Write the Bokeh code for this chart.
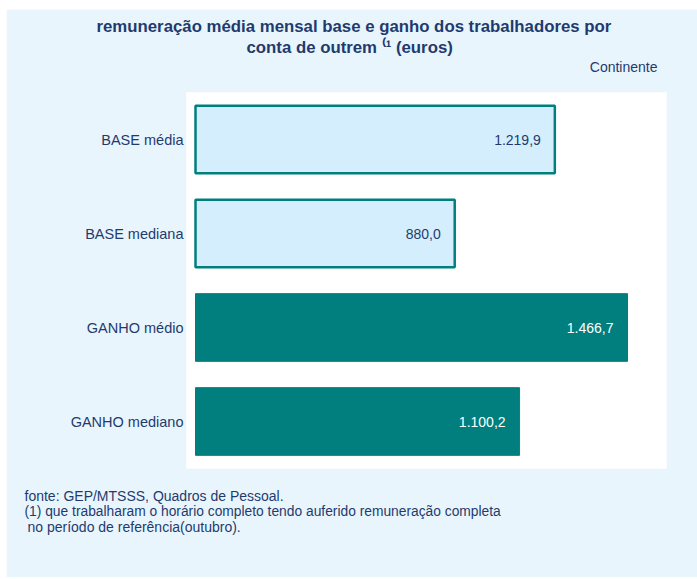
from bokeh.plotting import figure
from bokeh.models import ColumnDataSource, FactorRange, Range1d, Title
from bokeh.core.properties import value
from bokeh.embed import file_html
from bokeh.resources import INLINE

categories = ["BASE média", "BASE mediana", "GANHO médio", "GANHO mediano"]
values = [1219.9, 880.0, 1466.7, 1100.2]
groups = ["BASE", "BASE", "GANHO", "GANHO"]

title_line1 = "remuneração média mensal base e ganho dos trabalhadores por"
title_line2 = "conta de outrem \u207d\u00b9 (euros)"
region = "Continente"
notes = [
    "fonte: GEP/MTSSS, Quadros de Pessoal.",
    "(1) que trabalharam o horário completo tendo auferido remuneração completa",
    " no período de referência(outubro).",
]

NAVY = "#1F3B6E"
TEAL = "#007F7E"
LIGHT = "#D4EEFD"
BG = "#E9F5FD"
FONT = "Liberation Sans"


def fmt_pt(v):
    s = f"{v:,.1f}"
    return s.replace(",", "X").replace(".", ",").replace("X", ".")


fill = [LIGHT if g == "BASE" else TEAL for g in groups]
lw = [2.5 if g == "BASE" else 1 for g in groups]
tcol = [NAVY if g == "BASE" else "white" for g in groups]
labels = [fmt_pt(v) for v in values]
src = ColumnDataSource(dict(cat=categories, val=values, fill=fill, lw=lw,
                            tcol=tcol, lab=labels))

p = figure(
    y_range=FactorRange(*reversed(categories), range_padding=0),
    x_range=Range1d(-30.6, 1599),
    frame_width=480, frame_height=376,
    min_border_left=180, min_border_right=31,
    min_border_top=83, min_border_bottom=109,
    x_axis_location=None,
    output_backend="svg", toolbar_location=None,
)
p.margin = (9, 0, 0, 6)
p.title = None
p.border_fill_color = BG
p.background_fill_color = "white"
p.outline_line_color = None
p.grid.visible = False

ya = p.yaxis[0]
ya.axis_line_color = None
ya.major_tick_line_color = None
ya.minor_tick_line_color = None
ya.major_tick_out = 0
ya.major_label_standoff = 3
ya.major_label_text_font = FONT
ya.major_label_text_font_size = "14.5px"
ya.major_label_text_color = NAVY

p.hbar(y="cat", right="val", left=0, height=0.72, source=src,
       fill_color="fill", line_color=TEAL, line_width="lw")
p.text(x="val", y="cat", text="lab", source=src, x_offset=-14,
       text_align="right", text_baseline="middle", text_color="tcol",
       text_font_size="14px", text_font=value(FONT))


def ttl(txt, side, size, standoff, align="left", offset=0, bold=False):
    p.add_layout(Title(text=txt, align=align, offset=offset,
                       standoff=standoff, vertical_align="middle",
                       text_font=FONT, text_font_size=size,
                       text_font_style="bold" if bold else "normal",
                       text_color=NAVY), side)


# above: stacked from the frame outwards
ttl(" ", "above", "1px", 13)
ttl(region, "above", "14px", 1.4, align="right", offset=9)
ttl(title_line2, "above", "16.8px", 0, offset=60, bold=True)
ttl(title_line1, "above", "16.8px", -1, offset=-90, bold=True)

# below: stacked from the frame outwards
ttl(" ", "below", "1px", 16)
ttl(notes[0], "below", "14px", -2.5, offset=-162)
ttl(notes[1], "below", "13.8px", -2.5, offset=-162)
ttl(notes[2], "below", "14px", -2.5, offset=-159)

open("out.html", "w").write(file_html(p, INLINE))
